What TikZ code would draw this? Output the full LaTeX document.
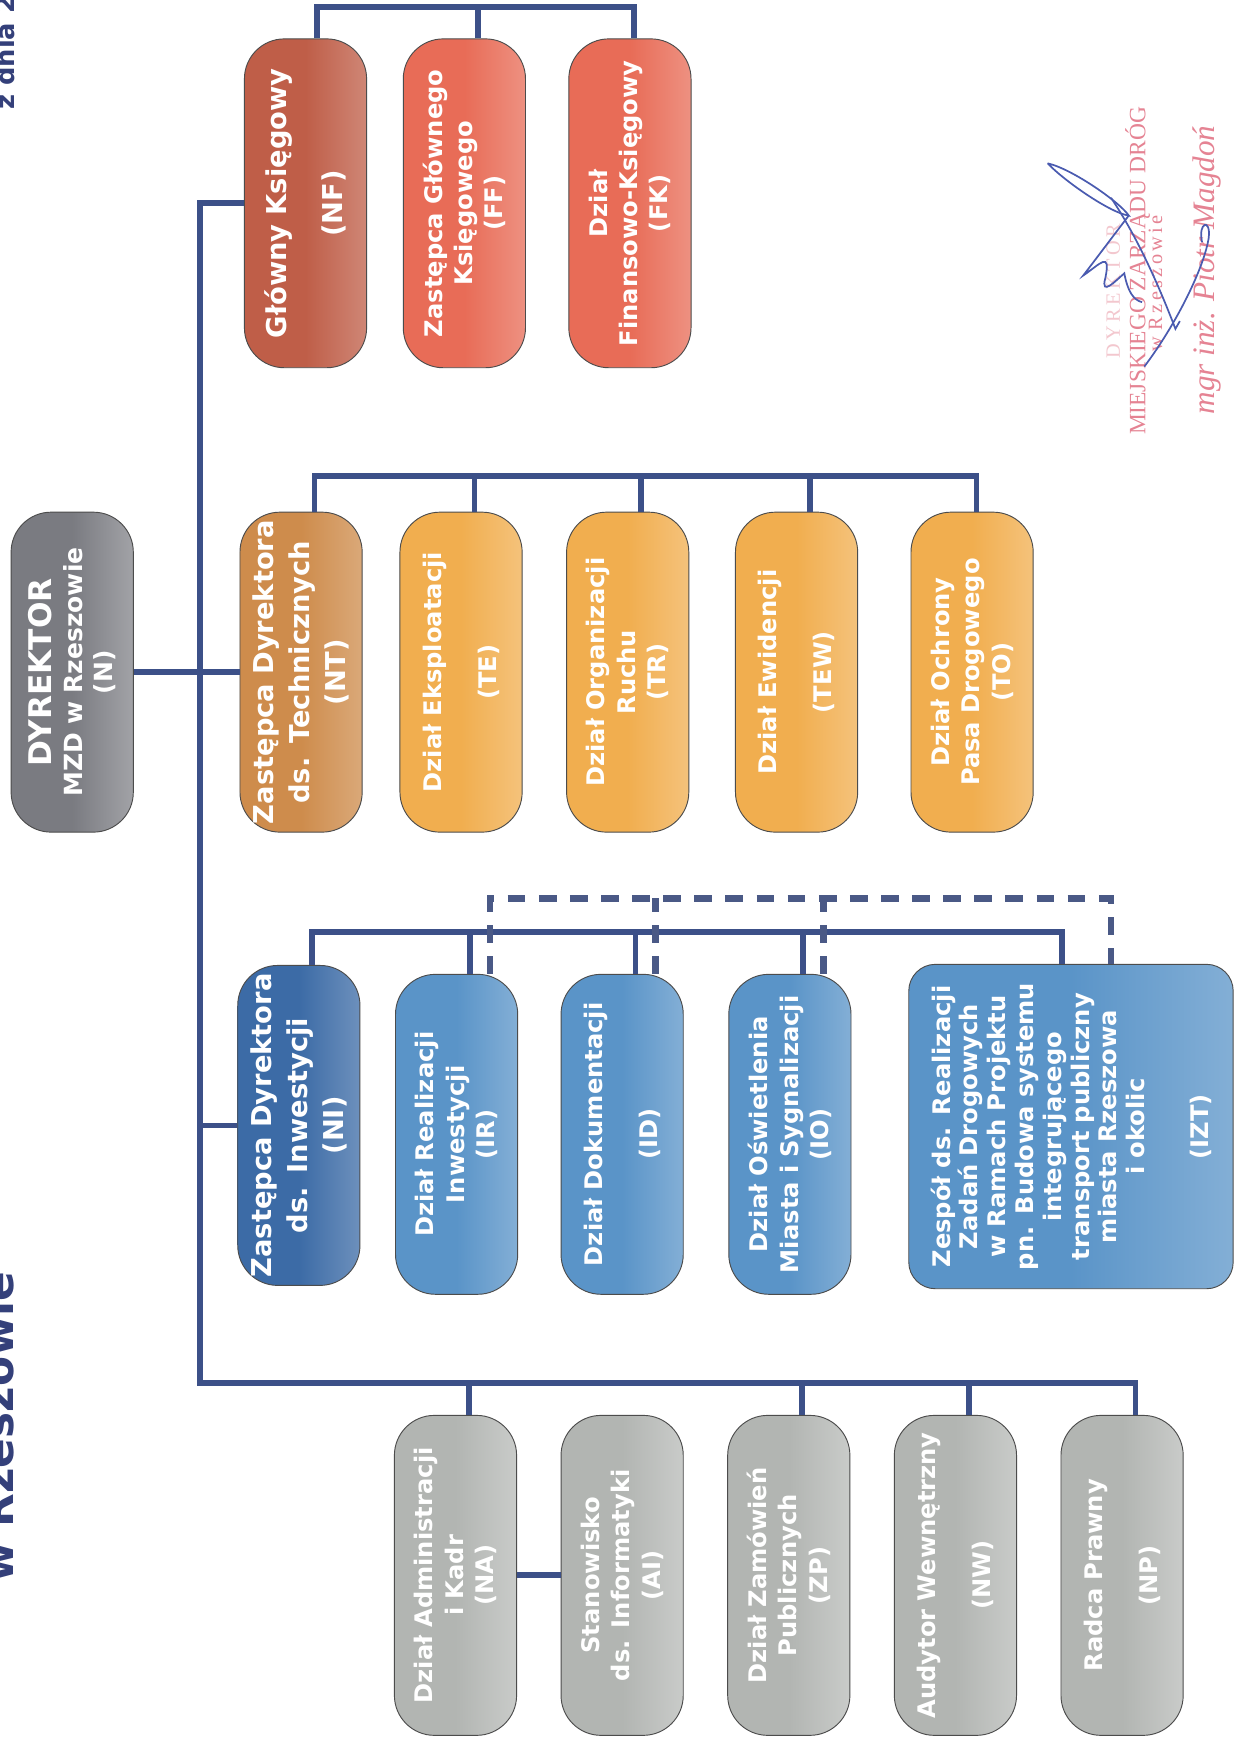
\documentclass[tikz,border=0pt]{standalone}
\usepackage{fontspec}
\setmainfont{DejaVu Sans}
\newfontfamily\stampfont{Liberation Serif}
\usepackage{tikz}
\definecolor{dirgray}{HTML}{7A7B81}
\definecolor{chiefred}{HTML}{BF5E48}
\definecolor{finred}{HTML}{E86C57}
\definecolor{techbrown}{HTML}{CE8C4C}
\definecolor{techorange}{HTML}{F1AE4F}
\definecolor{invnavy}{HTML}{3C6BA6}
\definecolor{invblue}{HTML}{5A94C8}
\definecolor{suppgray}{HTML}{B2B5B2}
\definecolor{linkblue}{HTML}{3C5088}
\definecolor{titleblue}{HTML}{34407A}
\definecolor{stampred}{HTML}{E58393}
\definecolor{inkblue}{HTML}{4A5BB0}
\tikzstyle{unit}=[rotate=90,
                  rounded corners=9mm,
                  draw=black!70,
                  line width=0.6pt,
                  minimum width=72mm,
                  minimum height=27.5mm,
                  text width=70mm,
                  inner sep=1mm,
                  align=center,
                  text=white,
                  font=\bfseries\fontsize{15.5}{19.5}\selectfont]
\tikzstyle{deputy}=[font=\bfseries\fontsize{17.5}{23}\selectfont]
\tikzstyle{director}=[unit,left color=dirgray,right color=dirgray!70!white,middle color=dirgray]
\tikzstyle{chief}=[unit,minimum width=74mm,left color=chiefred,right color=chiefred!75!white,middle color=chiefred]
\tikzstyle{finance}=[unit,minimum width=74mm,left color=finred,right color=finred!75!white,middle color=finred]
\tikzstyle{techhead}=[unit,left color=techbrown,right color=techbrown!75!white,middle color=techbrown]
\tikzstyle{techunit}=[unit,left color=techorange,right color=techorange!75!white,middle color=techorange]
\tikzstyle{invhead}=[unit,left color=invnavy,right color=invnavy!75!white,middle color=invnavy]
\tikzstyle{invunit}=[unit,left color=invblue,right color=invblue!75!white,middle color=invblue]
\tikzstyle{support}=[unit,left color=suppgray,right color=suppgray!70!white,middle color=suppgray]
\tikzstyle{link}=[draw=linkblue,line width=1.3mm]
\tikzstyle{dashlink}=[draw=linkblue!80!gray,line width=1.5mm,dash pattern=on 4mm off 3mm]
\tikzstyle{stamp}=[rotate=90,inner sep=0pt,text=stampred]
\tikzstyle{ink}=[draw=inkblue,line width=1.1pt]

\begin{document}
\begin{tikzpicture}[x=0.25mm,y=-0.25mm]
\fill[white] (0,0) rectangle (1115,1568);
\useasboundingbox (0,0) rectangle (1115,1568);
% heading (cut by the scan)
\node (title) [rotate=90,anchor=base west,inner sep=0pt,text=titleblue,font=\bfseries\fontsize{28}{32}\selectfont] at (12.6,1425) {w Rzeszowie};
\node (date)  [rotate=90,anchor=base west,inner sep=0pt,text=titleblue,font=\bfseries\fontsize{16.5}{20}\selectfont] at (13.5,99) {z dnia 2};
% director
\node (N)   [director,font=\bfseries\fontsize{16}{19.5}\selectfont] at (65,605) {{\fontsize{20}{24}\selectfont DYREKTOR}\\MZD w Rzeszowie\\(N)};
% finance
\node (NF)  [chief,deputy] at (275,183) {Główny Księgowy\\[4.5mm](NF)};
\node (FF)  [finance] at (418,183) {Zastępca Głównego\\Księgowego\\(FF)};
\node (FK)  [finance] at (567,183) {Dział\\Finansowo-Księgowy\\(FK)};
% technical
\node (NT)  [techhead,deputy] at (271,605) {Zastępca Dyrektora\\ds. Technicznych\\(NT)};
\node (TE)  [techunit] at (415,605) {Dział Eksploatacji\\[5.5mm](TE)};
\node (TR)  [techunit] at (565,605) {Dział Organizacji\\Ruchu\\(TR)};
\node (TEW) [techunit] at (717,605) {Dział Ewidencji\\[5.5mm](TEW)};
\node (TO)  [techunit] at (875,605) {Dział Ochrony\\Pasa Drogowego\\(TO)};
% investments
\node (NI)  [invhead,deputy] at (269,1013) {Zastępca Dyrektora\\ds. Inwestycji\\(NI)};
\node (IR)  [invunit] at (411,1021) {Dział Realizacji\\Inwestycji\\(IR)};
\node (ID)  [invunit] at (560,1021) {Dział Dokumentacji\\[5.5mm](ID)};
\node (IO)  [invunit] at (711,1021) {Dział Oświetlenia\\Miasta i Sygnalizacji\\(IO)};
\node (IZT) [invunit,rounded corners=6mm,minimum width=73mm,minimum height=73mm,text width=71mm,font=\bfseries\fontsize{15.5}{17.8}\selectfont] at (964,1014) {Zespół ds. Realizacji\\Zadań Drogowych\\w Ramach Projektu\\pn. Budowa systemu\\integrującego\\transport publiczny\\miasta Rzeszowa\\i okolic\\[8mm](IZT)};
% support units
\node (NA)  [support] at (410,1418) {Dział Administracji\\i Kadr\\(NA)};
\node (AI)  [support] at (560,1418) {Stanowisko\\ds. Informatyki\\(AI)};
\node (ZP)  [support] at (710,1418) {Dział Zamówień\\Publicznych\\(ZP)};
\node (NW)  [support] at (860,1418) {Audytor Wewnętrzny\\[5.5mm](NW)};
\node (NP)  [support] at (1010,1418) {Radca Prawny\\[5.5mm](NP)};

\coordinate (trunk) at (180,1245);
\draw[link] (N) -- (NT);
\draw[link] (NF.north) -| (trunk) -| ([xshift=3mm]NP.east);
\draw[link] (NI.north) -- (NI.north -| trunk);
\foreach \u in {NA,ZP,NW} \draw[link] ([xshift=3mm]\u.east) -- ++(0,-30);
\draw[link] (NA) -- (AI);
\draw[link] ([xshift=2.5mm]NF.east) -- ++(0,-28) -| ([xshift=1mm]FK.east);
\draw[link] ([xshift=3mm]FF.east) -- ++(0,-28);
\draw[link] ([xshift=3mm]NT.east) -- ++(0,-32) -| ([xshift=1mm]TO.east);
\foreach \u in {TE,TR,TEW} \draw[link] ([xshift=3mm]\u.east) -- ++(0,-32);
\draw[link] ([xshift=3mm]NI.east) -- ++(0,-30) -| ([xshift=-2mm]IZT.east);
\foreach \u in {IR,ID,IO} \draw[link] ([xshift=3mm]\u.east) -- ++(0,-40);
\draw[dashlink] ([xshift=7.5mm]IR.east) -- ++(0,-68) -| ([xshift=9mm]IZT.east);
\foreach \u in {ID,IO} \draw[dashlink] ([xshift=7.5mm]\u.east) -- ++(0,-68);

% stamp and signature
\node (stampA) [stamp,text=stampred!45,font=\stampfont\fontsize{13}{15}\selectfont] at (1002,262) {D\,Y\,R\,E\,K\,T\,O\,R};
\node (stampB) [stamp,anchor=base east,font=\stampfont\fontsize{15}{18}\selectfont] at (1031,96) {MIEJSKIEGO ZARZĄDU DRÓG};
\node (stampC) [stamp,anchor=base,font=\stampfont\fontsize{13}{15}\selectfont] at (1046,255) {w\,\,R\,z\,e\,s\,z\,o\,w\,i\,e};
\node (stampD) [stamp,anchor=base,font=\stampfont\itshape\fontsize{20}{23}\selectfont] at (1093,243) {mgr inż. Piotr Magdoń};
\draw[ink] (943,147) .. controls (965,152) and (1008,182) .. (1016,194) .. controls (1000,192) and (958,163) .. (943,147);
\draw[ink] (1016,194) .. controls (1000,215) and (985,235) .. (975,248) .. controls (990,238) and (1000,225) .. (995,250) .. controls (990,268) and (1005,252) .. (1012,246) .. controls (1015,262) and (1020,270) .. (1028,272);
\draw[ink] (1000,178) .. controls (1025,215) and (1045,262) .. (1058,296) -- (1062,289);
\draw[ink] (1082,218) .. controls (1078,200) and (1090,196) .. (1088,214) .. controls (1084,240) and (1060,290) .. (1030,330);
\end{tikzpicture}
\end{document}
